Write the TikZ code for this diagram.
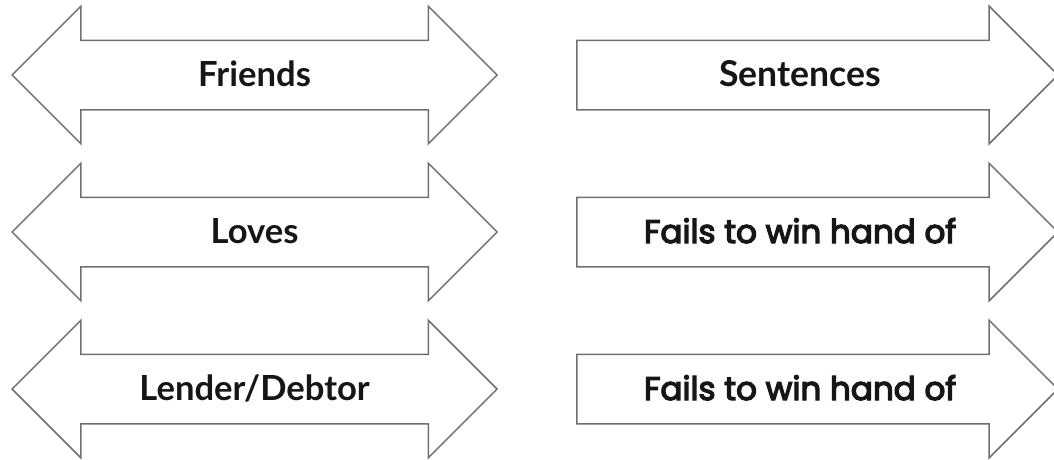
\documentclass[tikz,border=0pt]{standalone}
\usepackage{fontspec}
\setmainfont{Lato}
\newfontfamily\roundfont[FakeBold=4]{Poppins}
\usetikzlibrary{shapes.arrows,positioning}
\definecolor{edgegray}{RGB}{112,112,112}
\definecolor{inkblack}{RGB}{22,22,22}
\tikzset{
  twoway/.style={double arrow, draw=edgegray, line width=0.75pt, fill=white,
    double arrow head extend=17pt, minimum height=242.5pt,
    inner xsep=0pt, inner ysep=0pt, text height=22.5pt, text depth=11.5pt,
    font=\fontsize{17.3}{20}\selectfont\bfseries, text=inkblack},
  oneway/.style={single arrow, draw=edgegray, line width=0.75pt, fill=white,
    single arrow head extend=17pt, minimum height=240.5pt,
    inner xsep=0pt, inner ysep=0pt, text height=22.5pt, text depth=11.5pt,
    font=\fontsize{17.8}{20}\selectfont\bfseries, text=inkblack},
  roundtext/.style={font=\roundfont\fontsize{16.3}{19}\selectfont}
}

\begin{document}
\begin{tikzpicture}[node distance=43pt and 39pt]
\useasboundingbox (0,0) rectangle (527pt,-230pt);
\node[twoway, anchor=west] (friends) at (5.5pt,-37.5pt) {Friends};
\node[twoway, below=of friends] (loves) {Loves};
\node[twoway, below=of loves] (lender) {Lender/Debtor};
\node[oneway, right=of friends] (sentences) {Sentences};
\node[oneway, roundtext, right=of loves] (fails) {Fails to win hand of};
\node[oneway, roundtext, right=of lender] (failsagain) {Fails to win hand of};
\end{tikzpicture}
\end{document}
